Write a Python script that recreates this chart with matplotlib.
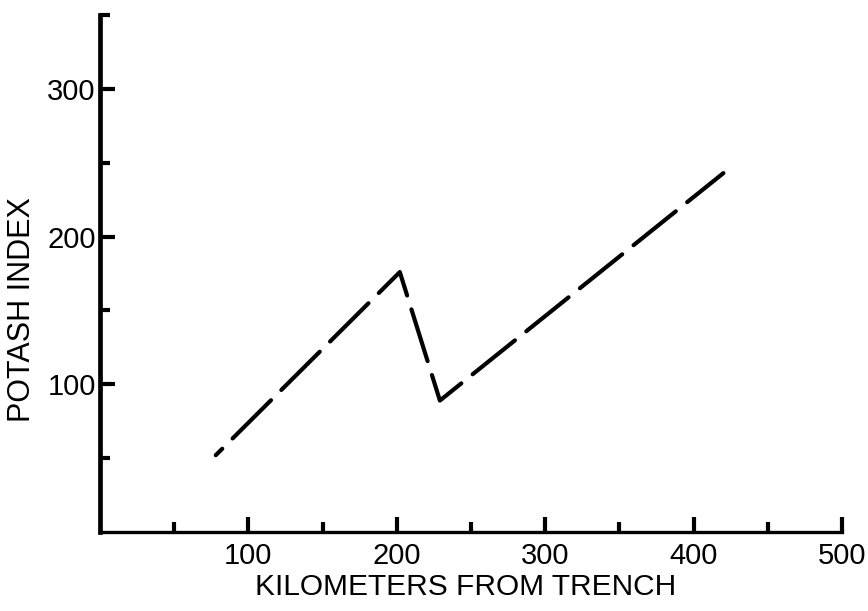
# ==========================================
# POTASH INDEX VS DISTANCE FROM TRENCH
# ==========================================

import matplotlib.pyplot as plt

# ==========================================
# DATA
# ==========================================

distance_km = [78, 202, 229, 420]
potash_index = [52, 176, 89, 243]

x_major = [100, 200, 300, 400, 500]
x_minor = [50, 150, 250, 350, 450]
y_major = [100, 200, 300]
y_minor = [50, 150, 250, 350]

# ==========================================
# STYLE
# ==========================================

plt.rcParams["font.family"] = ["Liberation Sans", "DejaVu Sans"]

fig = plt.figure(figsize=(8.68, 6.11), dpi=100)
ax = fig.add_axes([0.1152, 0.1293, 0.855, 0.846])

# ==========================================
# LINE
# ==========================================

# offset chosen so both corners fall inside a dash
ax.plot(
    distance_km,
    potash_index,
    color="black",
    linewidth=3,
    solid_capstyle="round",
    dash_capstyle="round",
    linestyle=(10.8, (13, 3.5))
)

# ==========================================
# AXES
# ==========================================

ax.set_xlim(0, 500)
ax.set_ylim(0, 350)

ax.spines["top"].set_visible(False)
ax.spines["right"].set_visible(False)
ax.spines["left"].set_linewidth(3.4)
ax.spines["bottom"].set_linewidth(2.4)

ax.set_xticks(x_major)
ax.set_xticks(x_minor, minor=True)
ax.set_yticks(y_major)
ax.set_yticks(y_minor, minor=True)

ax.tick_params(
    which="major",
    direction="in",
    length=11,
    width=3,
    labelsize=21
)
ax.tick_params(
    which="minor",
    direction="in",
    length=7,
    width=3
)
ax.tick_params(axis="x", which="major", pad=7)
ax.tick_params(axis="y", which="major", pad=3)

ax.set_xlabel("KILOMETERS FROM TRENCH", fontsize=21.5)
ax.set_ylabel("POTASH INDEX", fontsize=22)
ax.xaxis.set_label_coords(0.492, -0.079)
ax.yaxis.set_label_coords(-0.085, 0.43)

plt.savefig("out.png", dpi=100)
